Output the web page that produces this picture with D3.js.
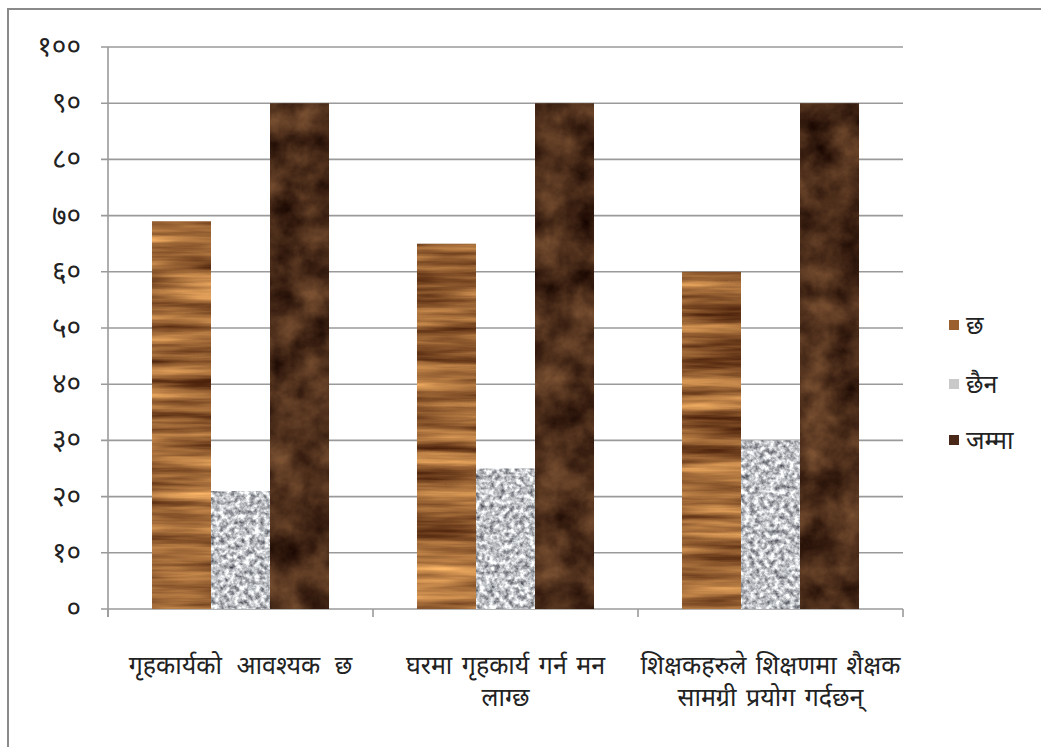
<!DOCTYPE html>
<html>
<head>
<meta charset="utf-8">
<script src="https://cdn.jsdelivr.net/npm/d3@7"></script>
<style>
  html, body { margin: 0; padding: 0; background: #fff; }
  svg { display: block; }
  text { font-family: "Noto Sans Devanagari", "Noto Sans", "Lohit Devanagari", sans-serif; fill: #222; }
</style>
</head>
<body>
<svg id="chart" width="1041" height="747"></svg>
<script>
// ---- data ----
const categories = ["गृहकार्यको  आवश्यक छ", "घरमा गृहकार्य गर्न मन लाग्छ", "शिक्षकहरुले शिक्षणमा शैक्षक सामग्री प्रयोग गर्दछन्"];
const categoryLines = [["गृहकार्यको आवश्यक छ"], ["घरमा गृहकार्य गर्न मन", "लाग्छ"], ["शिक्षकहरुले शिक्षणमा शैक्षक", "सामग्री प्रयोग गर्दछन्"]];
const seriesNames = ["छ", "छैन", "जम्मा"];
const valuesChha = [69, 65, 60];
const valuesChhaina = [21, 25, 30];
const valuesJamma = [90, 90, 90];
const yTicks = [0, 10, 20, 30, 40, 50, 60, 70, 80, 90, 100];
const yTickLabels = ["०", "१०", "२०", "३०", "४०", "५०", "६०", "७०", "८०", "९०", "१००"];

const seriesValues = [valuesChha, valuesChhaina, valuesJamma];
const legendColors = ["#9b5f2e", "#c9c9c9", "#4a2818"];
const seriesFilters = ["woodF", "graniteF", "marbleF"];

const svg = d3.select("#chart");

// border
svg.append("rect").attr("x", 8).attr("y", 9).attr("width", 1040).attr("height", 745)
  .attr("fill", "#fff").attr("stroke", "#8a8a8a").attr("stroke-width", 2);

// ---- texture filters ----
const defs = svg.append("defs");
function makeFilter(id, type, freq, oct, seed, rows) {
  const f = defs.append("filter").attr("id", id)
    .attr("x", 0).attr("y", 0).attr("width", 1).attr("height", 1)
    .attr("color-interpolation-filters", "sRGB");
  f.append("feTurbulence").attr("type", type).attr("baseFrequency", freq)
    .attr("numOctaves", oct).attr("seed", seed).attr("result", "n");
  f.append("feColorMatrix").attr("in", "n").attr("type", "matrix")
    .attr("values", rows).attr("result", "c");
  f.append("feComposite").attr("in", "c").attr("in2", "SourceGraphic").attr("operator", "in");
}
makeFilter("woodF", "fractalNoise", "0.006 0.09", 4, 3,
  "0.95 0 0 0 0.14  0.8 0 0 0 0.0  0.5 0 0 0 -0.04  0 0 0 0 1");
makeFilter("graniteF", "fractalNoise", "0.2", 3, 7,
  "1.2 0 0 0 0.15  1.2 0 0 0 0.16  1.15 0 0 0 0.2  0 0 0 0 1");
makeFilter("marbleF", "fractalNoise", "0.03", 5, 11,
  "0.5 0 0 0 0.05  0.38 0 0 0 -0.01  0.25 0 0 0 -0.02  0 0 0 0 1");

// ---- scales ----
const plot = { left: 108, right: 903, top: 47, bottom: 609 };
const y = d3.scaleLinear().domain([0, 100]).range([plot.bottom, plot.top]);
const x0 = d3.scaleBand().domain(categories).range([plot.left, plot.right])
  .paddingInner(0.332).paddingOuter(0.166);
const x1 = d3.scaleBand().domain(seriesNames).range([0, x0.bandwidth()]).padding(0);

// gridlines
svg.append("g").selectAll("line").data(yTicks).join("line")
  .attr("x1", plot.left - 7).attr("x2", plot.right)
  .attr("y1", d => y(d)).attr("y2", d => y(d))
  .attr("stroke", "#9a9a9a").attr("stroke-width", 1.6);

// y axis line
svg.append("line").attr("x1", plot.left).attr("x2", plot.left)
  .attr("y1", plot.top).attr("y2", plot.bottom + 8)
  .attr("stroke", "#9a9a9a").attr("stroke-width", 1.6);

// x category tick marks
const bounds = [plot.left].concat(categories.map(c => x0(c) + x0.bandwidth() + x0.step() * x0.paddingInner() / 2));
bounds[bounds.length - 1] = plot.right;
svg.append("g").selectAll("line").data(bounds).join("line")
  .attr("x1", d => d).attr("x2", d => d)
  .attr("y1", plot.bottom).attr("y2", plot.bottom + 8)
  .attr("stroke", "#9a9a9a").attr("stroke-width", 1.6);

// y tick labels
svg.append("g").selectAll("text").data(yTicks).join("text")
  .attr("x", 81).attr("y", d => y(d)).attr("dy", "0.32em")
  .attr("text-anchor", "end").attr("font-size", 28).attr("fill", "#444")
  .text((d, i) => yTickLabels[i]);

// bars
seriesNames.forEach((s, si) => {
  svg.append("g").selectAll("rect").data(categories).join("rect")
    .attr("x", c => x0(c) + x1(s))
    .attr("width", x1.bandwidth())
    .attr("y", (c, ci) => y(seriesValues[si][ci]))
    .attr("height", (c, ci) => plot.bottom - y(seriesValues[si][ci]))
    .attr("fill", legendColors[si])
    .attr("filter", `url(#${seriesFilters[si]})`);
});

// category labels
const lab = svg.append("g");
categories.forEach((c, ci) => {
  const cx = x0(c) + x0.bandwidth() / 2;
  const t = lab.append("text").attr("text-anchor", "middle").attr("font-size", 25)
    .attr("word-spacing", ci === 0 ? 8 : 3).attr("fill", "#222");
  categoryLines[ci].forEach((ln, li) => {
    t.append("tspan").attr("x", cx).attr("y", 674 + li * 32).text(ln);
  });
});

// legend
const legendY = [325, 384, 440];
const lg = svg.append("g");
seriesNames.forEach((s, si) => {
  lg.append("rect").attr("x", 949).attr("y", legendY[si] - 5).attr("width", 10).attr("height", 10)
    .attr("fill", legendColors[si]);
  lg.append("text").attr("x", 966).attr("y", legendY[si]).attr("dy", "0.35em")
    .attr("font-size", 25).attr("fill", "#222").text(s);
});
</script>
</body>
</html>
